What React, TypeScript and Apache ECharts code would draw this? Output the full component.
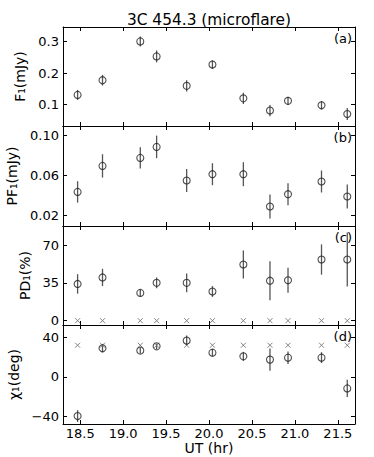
import React, { useEffect, useRef } from 'react';
import * as echarts from 'echarts';

// ---- data ----
const times = [18.47, 18.76, 19.2, 19.39, 19.74, 20.04, 20.4, 20.71, 20.92, 21.31, 21.61];

const fluxValues = [0.13, 0.177, 0.301, 0.253, 0.159, 0.227, 0.119, 0.08, 0.111, 0.097, 0.069];
const fluxErrors = [0.016, 0.017, 0.016, 0.019, 0.018, 0.014, 0.018, 0.018, 0.013, 0.014, 0.019];

const pfValues = [0.0438, 0.0698, 0.0778, 0.0888, 0.0552, 0.0615, 0.0615, 0.0292, 0.0415, 0.0542, 0.0392];
const pfErrors = [0.0107, 0.0117, 0.0107, 0.0113, 0.0115, 0.011, 0.012, 0.012, 0.011, 0.011, 0.012];

const pdValues = [34, 40, 25.7, 35, 35, 27, 52, 37, 37.4, 56.6, 56.6];
const pdErrors = [9, 8, 3, 5, 8.6, 5, 13, 18, 11.6, 14, 25];
const pdModel = [0, 0, 0, 0, 0, 0, 0, 0, 0, 0, 0];

const chiValues = [-39.4, 28.9, 26.6, 30.9, 36.7, 24.5, 20.8, 17.5, 19.5, 19.5, -11.5];
const chiErrors = [6, 4, 3, 2.7, 5, 3.7, 4.5, 11.3, 6.3, 5.5, 8.7];
const chiModel = [32, 32, 32, 32, 32, 32, 32, 32, 32, 32, 32];

const xTicks = [18.5, 19.0, 19.5, 20.0, 20.5, 21.0, 21.5];
const fluxTicks = [0.1, 0.2, 0.3];
const pfTicks = [0.02, 0.06, 0.1];
const pdTicks = [0, 35, 70];
const chiTicks = [-40, 0, 40];

const panelNames = ['F₁(mJy)', 'PF₁(mJy)', 'PD₁(%)', 'χ₁(deg)'];
const panelTags = ['(a)', '(b)', '(c)', '(d)'];
const titleText = '3C 454.3 (microflare)';
const xName = 'UT (hr)';

const FONT = 'DejaVu Sans';

export default function App() {
  const ref = useRef<HTMLDivElement>(null);
  useEffect(() => {
    const chart = echarts.init(ref.current!, null, { renderer: 'svg' });

    const tops = [27, 126, 226, 325];
    const heights = [99, 100, 99, 99];
    const yRanges = [
      [0.0307, 0.347],
      [0.0097, 0.1097],
      [-4, 87.6],
      [-47.4, 52.4],
    ];
    const yTickSets = [fluxTicks, pfTicks, pdTicks, chiTicks];
    const yFormatters = [
      (v: number) => v.toFixed(1),
      (v: number) => v.toFixed(2),
      (v: number) => String(v),
      (v: number) => (v < 0 ? '\u2212' + Math.abs(v) : String(v)),
    ];
    const values = [fluxValues, pfValues, pdValues, chiValues];
    const errors = [fluxErrors, pfErrors, pdErrors, chiErrors];
    const models: (number[] | null)[] = [null, null, pdModel, chiModel];

    const grid = tops.map((t, i) => ({ left: 63, right: 19, top: t, height: heights[i], outerBoundsMode: 'none' }));

    const xAxis: any[] = [];
    const yAxis: any[] = [];
    const series: any[] = [];

    for (let i = 0; i < 4; i++) {
      const base = {
        type: 'value',
        gridIndex: i,
        min: 18.3,
        max: 21.7,
        splitLine: { show: false },
        axisLine: { show: true, onZero: false, lineStyle: { color: '#000', width: 1 } },
        axisTick: { show: true, inside: true, length: 4, customValues: xTicks, lineStyle: { color: '#000', width: 1 } },
      };
      xAxis.push({
        ...base,
        position: 'bottom',
        axisLabel: {
          show: i === 3,
          customValues: xTicks,
          formatter: (v: number) => v.toFixed(1),
          fontFamily: FONT,
          fontSize: 13,
          color: '#000',
          margin: 3,
        },
        name: i === 3 ? xName : '',
        nameLocation: 'middle',
        nameGap: 16,
        nameTextStyle: { fontFamily: FONT, fontSize: 14, color: '#000' },
      });
      xAxis.push({ ...base, position: 'top', axisLabel: { show: false } });

      const ybase = {
        type: 'value',
        gridIndex: i,
        min: yRanges[i][0],
        max: yRanges[i][1],
        splitLine: { show: false },
        axisLine: { show: true, onZero: false, lineStyle: { color: '#000', width: 1 } },
        axisTick: { show: true, inside: true, length: 4, customValues: yTickSets[i], lineStyle: { color: '#000', width: 1 } },
      };
      yAxis.push({
        ...ybase,
        position: 'left',
        axisLabel: {
          show: true,
          customValues: yTickSets[i],
          formatter: yFormatters[i],
          fontFamily: FONT,
          fontSize: 13,
          color: '#000',
          margin: 4,
        },
        name: panelNames[i],
        nameLocation: 'middle',
        nameGap: 31,
        nameTextStyle: { fontFamily: FONT, fontSize: 14, color: '#000' },
      });
      yAxis.push({ ...ybase, position: 'right', axisLabel: { show: false } });

      series.push({
        type: 'custom',
        xAxisIndex: 2 * i,
        yAxisIndex: 2 * i,
        clip: true,
        data: times.map((t, k) => [t, values[i][k], errors[i][k]]),
        encode: { x: 0, y: 1 },
        renderItem: (params: any, api: any) => {
          const x = api.value(0);
          const y = api.value(1);
          const e = api.value(2);
          const p1 = api.coord([x, y + e]);
          const p2 = api.coord([x, y - e]);
          return {
            type: 'line',
            shape: { x1: p1[0], y1: p1[1], x2: p2[0], y2: p2[1] },
            style: { stroke: '#555', lineWidth: 1.3 },
          };
        },
        z: 2,
      });

      const m = models[i];
      if (m) {
        series.push({
          type: 'custom',
          xAxisIndex: 2 * i,
          yAxisIndex: 2 * i,
          clip: true,
          data: times.map((t, k) => [t, m[k]]),
          encode: { x: 0, y: 1 },
          renderItem: (params: any, api: any) => {
            const p = api.coord([api.value(0), api.value(1)]);
            const h = 2.5;
            const st = { stroke: '#777', lineWidth: 0.9 };
            return {
              type: 'group',
              children: [
                { type: 'line', shape: { x1: p[0] - h, y1: p[1] - h, x2: p[0] + h, y2: p[1] + h }, style: st },
                { type: 'line', shape: { x1: p[0] - h, y1: p[1] + h, x2: p[0] + h, y2: p[1] - h }, style: st },
              ],
            };
          },
          z: 2,
        });
      }

      series.push({
        type: 'scatter',
        xAxisIndex: 2 * i,
        yAxisIndex: 2 * i,
        data: times.map((t, k) => [t, values[i][k]]),
        symbol: 'circle',
        symbolSize: 7,
        itemStyle: { color: 'rgba(0,0,0,0)', borderColor: '#222', borderWidth: 1.1 },
        z: 3,
      });
    }

    const graphic: any[] = [
      {
        type: 'text',
        x: 209,
        y: 20,
        style: { text: titleText, fontFamily: FONT, fontSize: 15.4, fill: '#000', align: 'center', verticalAlign: 'middle' },
      },
      ...panelTags.map((tag, i) => ({
        type: 'text',
        x: 352,
        y: tops[i] + 11,
        style: { text: tag, fontFamily: FONT, fontSize: 13, fill: '#000', align: 'right', verticalAlign: 'middle' },
      })),
    ];

    chart.setOption({
      animation: false,
      backgroundColor: '#fff',
      grid,
      xAxis,
      yAxis,
      series,
      graphic,
    });
    return () => chart.dispose();
  }, []);
  return <div ref={ref} style={{ position: 'absolute', left: 0, top: 0, width: 374, height: 457 }} />;
}
